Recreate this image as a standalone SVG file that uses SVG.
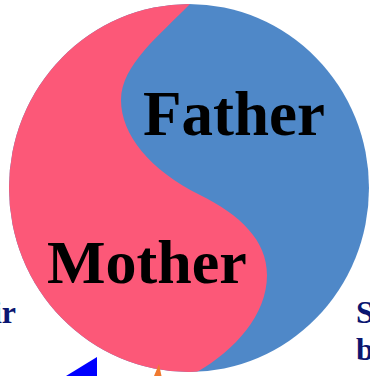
<svg xmlns="http://www.w3.org/2000/svg" width="370" height="376" viewBox="0 0 370 376">
<style>
.big{font-family:"Liberation Serif","Times New Roman",serif;font-weight:bold;font-size:62px;fill:#000}
.side{font-family:"Liberation Serif","Times New Roman",serif;font-weight:bold;font-size:32px;fill:#0a1670}
</style>
<defs>
<clipPath id="circ"><ellipse cx="189" cy="188" rx="180" ry="184"/></clipPath>
</defs>
<rect width="370" height="376" fill="#fff"/>
<g id="yinyang">
<ellipse cx="189" cy="188" rx="180" ry="184" fill="#4F88C8"/>
<path clip-path="url(#circ)" fill="#FC5878" d="M190 4 C160 35 121 65 121 100 C121 135 150 170 200 195 C240 215 267 240 267 275 C267 315 235 350 197 372 L197 380 L0 380 L0 -5 L190 -5 Z"/>
</g>
<g id="father"><text class="big" x="143" y="135" style="font-size:63px">Father</text></g>
<g id="mother"><text class="big" x="47" y="283">Mother</text></g>
<g id="left-label"><text class="side" x="16" y="323" text-anchor="end">ir</text></g>
<g id="right-label"><text class="side" x="356" y="323">S</text><text class="side" x="356" y="360">b</text></g>
<g id="connectors">
<polygon points="97,357 97,376 66,376" fill="#0000FF"/>
<path d="M159 364 L161.5 376 L154 376 Z" fill="#F07A30"/>
</g>
</svg>
